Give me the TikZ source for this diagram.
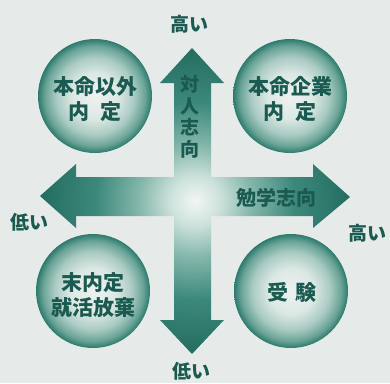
\documentclass[tikz,border=0pt]{standalone}
\usepackage{fontspec}
\newfontfamily\jp{Noto Sans CJK JP}
\definecolor{bgc}{HTML}{E6EAE8}
\definecolor{txt}{HTML}{1B5A50}
\definecolor{tealO}{HTML}{F2F6F4}
\definecolor{tealA}{HTML}{CDE2DC}
\definecolor{tealB}{HTML}{86B8AC}
\definecolor{tealC}{HTML}{3C897C}
\definecolor{tealD}{HTML}{246C60}
\definecolor{ballA}{HTML}{EEF2F0}
\definecolor{ballB}{HTML}{DCE8E4}
\definecolor{ballC}{HTML}{AACBC3}
\definecolor{ballD}{HTML}{6AA497}
\definecolor{ballE}{HTML}{2C7A6D}
\pgfdeclareradialshading{crossglow}{\pgfpoint{0bp}{0bp}}{color(0bp)=(tealO); color(4bp)=(tealA); color(9bp)=(tealB); color(16bp)=(tealC); color(25bp)=(tealD); color(40bp)=(tealD)}
\pgfdeclareradialshading{ballshade}{\pgfpoint{0bp}{0bp}}{color(0bp)=(ballA); color(10bp)=(ballB); color(17bp)=(ballC); color(22bp)=(ballD); color(25bp)=(ballE); color(40bp)=(ballE)}
\tikzset{
  ball/.style={circle, minimum size=114pt, inner sep=0pt, shading=ballshade},
  bigtxt/.style={font=\jp\bfseries\fontsize{21}{25}\selectfont, text=txt, align=center, inner sep=0pt},
  axtxt/.style={font=\jp\bfseries\fontsize{19}{21}\selectfont, text=txt, inner sep=0pt},
}
\begin{document}
\begin{tikzpicture}[x=1pt,y=-1pt]
\fill[bgc] (0,0) rectangle (390,383);
\useasboundingbox (0,0) rectangle (390,383);
% cross of arrows
\shade[shading=crossglow] (192,48) -- (224,83) -- (211,83) -- (211,177) -- (313,177) -- (313,164) -- (350,197) -- (313,228) -- (313,216) -- (211,216) -- (211,320) -- (224,320) -- (192,354) -- (160,320) -- (174,320) -- (174,216) -- (76,216) -- (76,228) -- (40,196) -- (76,164) -- (76,177) -- (174,177) -- (174,83) -- (160,83) -- cycle;
% circles
\node[ball] (tl) at (95,96) {};
\node[ball] (tr) at (290,96) {};
\node[ball] (bl) at (93,291) {};
\node[ball] (br) at (291,291) {};
\node[bigtxt] (tlt) at (95,99) {本命以外\\内\hspace{0.5em}定};
\node[bigtxt] (trt) at (290,99) {本命企業\\内\hspace{0.5em}定};
\node[bigtxt] (blt) at (93,295) {末内定\\就活放棄};
\node[bigtxt] (brt) at (292,292) {受\hspace{0.3em}験};
% axis labels
\node[axtxt] (top) at (189,24) {高い};
\node[axtxt] (left) at (29,222) {低い};
\node[axtxt] (right) at (367,233) {高い};
\node[axtxt] (bottom) at (191,371) {低い};
\node[axtxt, font=\jp\bfseries\fontsize{20}{21}\selectfont] (h) at (276,198) {勉学志向};
\node[axtxt, font=\jp\bfseries\fontsize{19}{21.5}\selectfont, align=center] (v) at (190,117) {対\\人\\志\\向};
\end{tikzpicture}
\end{document}
